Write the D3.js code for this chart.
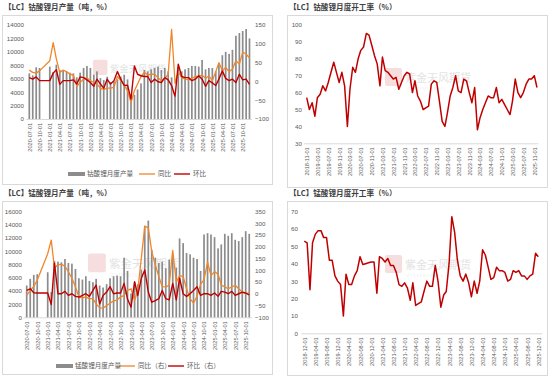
<!DOCTYPE html>
<html>
<head>
<meta charset="utf-8">
<script src="https://cdn.jsdelivr.net/npm/d3@7"></script>
<style>
body { margin: 0; background: #fff; }
svg { display: block; font-family: "Noto Sans CJK SC", "Noto Sans", sans-serif; }
</style>
</head>
<body>
<div id="main"></div>
<script>
var parse = d3.timeParse("%Y-%m");
var fmt = d3.timeFormat("%Y-%m-%d");
function months(a, b) {
  return d3.timeMonth.range(parse(a), d3.timeMonth.offset(parse(b), 1));
}

// ---- 钴酸锂 月产量 (吨) / 同比 / 环比 (%) ----
var lcoMonths = months("2020-07", "2020-10").concat(months("2021-01", "2025-12"));
var lcoOutput = [6800, 6500, 7700, 7600,
  7800, 7000, 8100, 7300, 7200, 7000, 6900, 6800, 6200, 6900, 7600, 7900,
  7600, 6600, 7100, 6100, 5800, 6300, 5500, 5600, 5900, 6300, 6600, 5900,
  2900, 3600, 4400, 5300, 7300, 7100, 7400, 7600, 7800, 7300, 7600, 7100,
  6200, 3300, 7800, 7100, 7400, 7600, 7900, 7900, 7800, 8800, 7400, 7600,
  7600, 7100, 8300, 9500, 10000, 9700, 10300, 12400, 12800, 13100, 13400, 12000];
var lcoYoY = [30, 24, 22, 28,
  55, 103, 60, 24, 30, 26, 19, 17, -13, -3, 6, 10,
  2, -3, -7, -18, -22, -18, -18, -16, 13, 2, -10, -25,
  -56, -25, -7, 13, 24, 17, 19, 19, 10, 2, 8, 19,
  138, -5, 26, 10, 6, 4, 8, 13, 13, 17, 8, 15,
  2, 26, 50, 28, 37, 26, 33, 55, 46, 78, 72, 63];
var lcoMoM = [10, 6, 12, 2,
  2, 22, 31, -8, 2, 2, 2, 4, -7, 12, 10, 4,
  -3, -13, 6, -7, -18, 6, -7, 2, 26, 6, -11, -10,
  -47, 41, 19, 15, 13, 13, -3, 6, -1, -3, 10, 4,
  -11, -40, 46, 13, 10, 10, 2, 6, 15, 6, -13, 2,
  -4, -11, 6, 28, 8, 2, 6, -3, 19, 4, 6, -8];
var lcoTicks = months("2020-07", "2025-10").filter(function (d, i) { return i % 3 === 0; });

// ---- 钴酸锂 月度开工率 (%) ----
var lcoRateMonths = months("2018-11", "2025-12");
var lcoRate = [57, 50, 54, 46, 57, 59, 64, 61, 66, 72, 78, 72, 66, 72, 64, 40, 62, 75, 72, 80,
  85, 87, 95, 94, 88, 82, 77, 64, 81, 73, 72, 70, 68, 69, 62, 66, 70, 72, 71, 60,
  67, 58, 55, 50, 51, 52, 65, 67, 66, 55, 43, 40, 48, 58, 63, 70, 61, 60, 68, 67,
  60, 54, 63, 38, 45, 50, 54, 58, 57, 57, 63, 54, 56, 53, 50, 47, 55, 68, 60, 57,
  60, 65, 68, 68, 70, 63];
var lcoRateTicks = months("2018-11", "2025-11").filter(function (d, i) { return i % 4 === 0; });

// ---- 锰酸锂 月产量 (吨) / 同比 / 环比 (%) ----
var lmoMonths = months("2020-07", "2020-10").concat(months("2021-01", "2025-11"));
var lmoOutput = [4800, 5800, 6400, 6500,
  6800, 3800, 8500, 8400, 8300, 8800, 8200, 8100, 7300, 5900, 5700, 6200,
  5500, 5300, 5800, 4800, 4500, 5000, 5900, 6200, 6300, 6200, 9000, 7000,
  3600, 5300, 5000, 7200, 13800, 14600, 10200, 9000, 8200, 8400, 7400, 8700,
  9500, 7500, 11900, 11200, 9700, 9500, 9000, 8800, 7000, 12500, 12700, 12500,
  12100, 10400, 11000, 12600, 12300, 12700, 11700, 11500, 12100, 13000, 12600];
var lmoYoY = [-7, 14, 31, 57,
  170, 228, 109, 123, 126, 116, 94, 66, 30, -14, -17, -14,
  -21, -21, -43, -60, -61, -50, -40, -31, -26, -14, -7, 14,
  21, -29, 14, 152, 287, 280, 180, 123, 73, 30, 29, 36,
  184, 49, 77, 73, 21, -21, -40, -10, 40, 60, 134, 77,
  94, 83, 37, 29, 21, 29, 36, 21, 7, 0, 5];
var lmoMoM = [14, 21, 4, 3,
  3, -46, 130, 0, 0, 10, -7, 0, -11, -14, -7, 0,
  -11, 14, 37, -43, -7, 7, 30, 0, 3, 3, 44, -22,
  -57, 51, -7, 66, 101, 7, -36, -29, -21, 14, -21, -26,
  44, -26, 66, 0, -11, 0, 14, 30, -7, 0, 0, -7,
  3, -11, 10, 7, 0, 10, -7, 0, 7, 3, -5];
var lmoTicks = lcoTicks;

// ---- 锰酸锂 月度开工率 (%) ----
var lmoRateMonths = months("2018-12", "2025-12");
var lmoRate = [53, 52, 25, 52, 57, 59, 59, 55, 55, 42, 42, 33, 30, 28, 10, 34, 28, 28, 33, 36,
  44, 39.5, 40, 40.5, 41, 41, 23, 44, 43, 41, 43, 39, 39, 35, 28, 27, 29, 26, 19, 29,
  16, 17, 18, 24, 30, 27, 27, 39, 30, 15, 22, 24, 40, 67, 58, 42, 33, 30, 34, 29,
  21, 30, 23, 30, 48, 45, 38, 31, 32, 38, 36, 36, 35, 30, 31, 36, 35, 36, 33, 33,
  31, 33, 34, 46, 44];
var lmoRateTicks = months("2018-12", "2025-12").filter(function (d, i) { return i % 4 === 0; });

var svg = d3.select("#main").append("svg").attr("width", 550).attr("height", 377);
var red = "#c00000", orange = "#f0862a", gray = "#8c8c8c", txt = "#595959";
var num = d3.format("d");

function frame(x, y, w, h, title) {
  svg.append("rect").attr("x", x + 0.5).attr("y", y + 0.5).attr("width", w).attr("height", h)
    .style("fill", "none").style("stroke", "#d9d9d9");
  svg.append("text").text(title).attr("x", x + 2).attr("y", y - 5)
    .style("font-size", "7.6px").style("font-weight", "bold").style("fill", "#404040");
}

function watermark(x, y, s) {
  var g = svg.append("g").attr("transform", "translate(" + x + "," + y + ") scale(" + s + ")");
  g.append("rect").attr("x", 0).attr("y", -12).attr("width", 17).attr("height", 18).attr("rx", 2)
    .style("fill", "#f6dede");
  g.append("text").text("紫金天风期货").attr("x", 20).attr("y", 2)
    .style("font-size", "11px").style("fill", "#e3e3e3");
  g.append("text").text("Z J T F  F U T U R E S").attr("x", 22).attr("y", 10)
    .style("font-size", "4px").style("fill", "#ececec");
}

function styleAxis(g) {
  g.select(".domain").remove();
  g.selectAll(".tick line").remove();
  g.selectAll("text").style("fill", txt).style("font-size", "6.2px").style("font-family", "inherit");
}

function xAxis(x, y0, ticks, x1, x2) {
  svg.append("line").attr("x1", x1).attr("x2", x2).attr("y1", y0 + 0.5).attr("y2", y0 + 0.5)
    .style("stroke", "#d9d9d9");
  var g = svg.append("g").attr("transform", "translate(0," + y0 + ")")
    .call(d3.axisBottom(x).tickValues(ticks).tickFormat(fmt).tickSize(0));
  g.select(".domain").remove();
  g.selectAll("text").attr("transform", "rotate(-90)").attr("x", -4).attr("y", 0).attr("dy", "0.35em")
    .style("text-anchor", "end").style("fill", txt).style("font-size", "5.6px").style("font-family", "inherit");
}

function barLine(c) {
  var x = d3.scaleTime().domain([c.ticks[0], c.ticks[c.ticks.length - 1]]).range(c.xr);
  var yL = d3.scaleLinear().domain(c.lDom).range(c.yr);
  var yR = d3.scaleLinear().domain(c.rDom).range(c.yr);
  svg.append("g").attr("transform", "translate(" + c.lx + ",0)")
    .call(d3.axisLeft(yL).tickValues(d3.range(c.lDom[0], c.lDom[1] + 1, c.lStep))
      .tickFormat(num).tickSize(0).tickPadding(0))
    .call(styleAxis);
  svg.append("g").attr("transform", "translate(" + c.rx + ",0)")
    .call(d3.axisRight(yR).tickValues(d3.range(c.rDom[0], c.rDom[1] + 1, c.rStep))
      .tickFormat(num).tickSize(0).tickPadding(0))
    .call(styleAxis);
  watermark(c.wm[0], c.wm[1], c.wm[2]);
  xAxis(x, c.yr[0], c.ticks, c.xr[0] - 3, c.rx - 3);
  svg.append("g").selectAll("rect").data(c.bars).enter().append("rect")
    .attr("x", function (d, i) { return x(c.months[i]) - 0.85; })
    .attr("width", 1.7)
    .attr("y", function (d) { return yL(d); })
    .attr("height", function (d) { return yL(0) - yL(d); })
    .style("fill", gray);
  [[c.yoy, orange, 1.3], [c.mom, red, 1.4]].forEach(function (s) {
    var line = d3.line().x(function (d, i) { return x(c.months[i]); }).y(function (d) { return yR(d); });
    svg.append("path").attr("d", line(s[0])).style("fill", "none").style("stroke", s[1])
      .style("stroke-width", s[2]).style("stroke-linejoin", "round");
  });
  // legend
  var lg = svg.append("g").attr("transform", "translate(0," + c.legY + ")");
  var items = c.legend;
  lg.append("rect").attr("x", items[0][0]).attr("y", -2).attr("width", 17).attr("height", 4).style("fill", gray);
  lg.append("line").attr("x1", items[1][0]).attr("x2", items[1][0] + 16).style("stroke", orange).style("stroke-width", 1.3);
  lg.append("line").attr("x1", items[2][0]).attr("x2", items[2][0] + 16).style("stroke", red).style("stroke-width", 1.4);
  items.forEach(function (it) {
    lg.append("text").text(it[1]).attr("x", it[0] + 19).attr("dy", "0.35em")
      .style("font-size", "6.6px").style("fill", txt);
  });
}

function rateLine(c) {
  var x = d3.scaleTime().domain([c.ticks[0], c.ticks[c.ticks.length - 1]]).range(c.xr);
  var y = d3.scaleLinear().domain(c.dom).range(c.yr);
  svg.append("g").attr("transform", "translate(" + c.lx + ",0)")
    .call(d3.axisLeft(y).tickValues(d3.range(c.dom[0], c.dom[1] + 1, 10))
      .tickFormat(num).tickSize(0).tickPadding(0))
    .call(styleAxis);
  watermark(c.wm[0], c.wm[1], c.wm[2]);
  xAxis(x, c.yr[0], c.ticks, c.xr[0] - 3, c.xr[1] + 4);
  var line = d3.line().x(function (d, i) { return x(c.months[i]); }).y(function (d) { return y(d); });
  svg.append("path").attr("d", line(c.values)).style("fill", "none").style("stroke", red)
    .style("stroke-width", 1.5).style("stroke-linejoin", "round");
}

frame(2, 15, 270, 169, "【LC】钴酸锂月产量（吨，%）");
frame(287, 15, 260, 172, "【LC】钴酸锂月度开工率（%）");
frame(2, 201, 270, 173, "【LC】锰酸锂月产量（吨，%）");
frame(287, 201, 260, 174, "【LC】锰酸锂月度开工率（%）");

barLine({
  months: lcoMonths, bars: lcoOutput, yoy: lcoYoY, mom: lcoMoM, ticks: lcoTicks,
  xr: [29.3, 242.7], yr: [119, 25], lDom: [0, 14000], lStep: 2000, rDom: [-100, 150], rStep: 50,
  lx: 24, rx: 255, legY: 174, wm: [93, 70, 0.85],
  legend: [[68, "钴酸锂月度产量"], [139, "同比"], [174, "环比"]]
});

rateLine({
  months: lcoRateMonths, values: lcoRate, ticks: lcoRateTicks,
  xr: [306.7, 534.3], yr: [143.3, 25], dom: [30, 100], lx: 302, wm: [385, 80, 1.0]
});

barLine({
  months: lmoMonths, bars: lmoOutput, yoy: lmoYoY, mom: lmoMoM, ticks: lmoTicks,
  xr: [26.7, 245.7], yr: [317.3, 211.3], lDom: [0, 16000], lStep: 2000, rDom: [-100, 350], rStep: 50,
  lx: 22, rx: 255, legY: 366, wm: [88, 266, 1.05],
  legend: [[56, "锰酸锂月度产量"], [119, "同比（右）"], [168, "环比（右）"]]
});

rateLine({
  months: lmoRateMonths, values: lmoRate, ticks: lmoRateTicks,
  xr: [304.3, 538.3], yr: [333.3, 211.5], dom: [0, 70], lx: 298, wm: [385, 267, 1.0]
});
</script>
</body>
</html>
